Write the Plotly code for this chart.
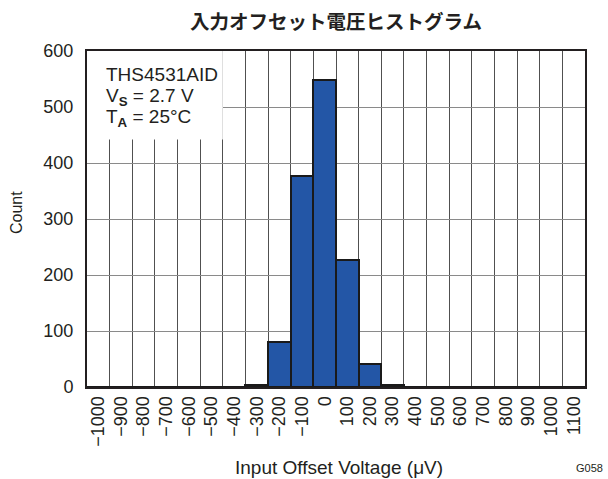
import plotly.graph_objects as go

bins = list(range(-1000, 1101, 100))
counts = [0, 0, 0, 0, 0, 0, 0, 3, 81, 376, 549, 226, 41, 3, 0, 0, 0, 0, 0, 0, 0, 0]
tick_labels = [("\u2212" + str(-b)) if b < 0 else str(b) for b in bins]
y_ticks = list(range(0, 601, 100))
boundaries = [b - 50 for b in bins] + [bins[-1] + 50]

font = "Liberation Sans, Arial, sans-serif"
W, H = 608, 479
L, R, T, B = 87, 23, 51, 92
pw, ph = W - L - R, H - T - B


def px(x):
    return (x - L) / pw


def py(y):
    return (H - B - y) / ph


fig = go.Figure()
fig.add_trace(go.Bar(
    x=bins, y=counts, width=100,
    marker=dict(color="#2356A6", line=dict(color="#1a1a1a", width=2)),
))

fig.add_shape(type="rect", xref="x", yref="y", x0=-1050, x1=-450, y0=442, y1=600,
              fillcolor="white", line=dict(width=0), layer="between")

fig.update_layout(
    width=W, height=H,
    margin=dict(l=L, r=R, t=T, b=B, autoexpand=False),
    plot_bgcolor="white", paper_bgcolor="white",
    showlegend=False, bargap=0,
    font=dict(family=font, color="#231f20"),
)
fig.update_xaxes(
    range=[-1050, 1150], automargin=False,
    tickmode="array", tickvals=bins, ticktext=tick_labels,
    tickangle=-90, tickfont=dict(size=18), ticks="",
    showgrid=False,
    minor=dict(tickmode="array", tickvals=boundaries, showgrid=True,
               gridcolor="#505050", gridwidth=1, ticks=""),
    showline=True, linecolor="#231f20", linewidth=2, mirror=True,
    zeroline=False,
)
fig.update_yaxes(
    range=[0, 600], automargin=False,
    tickmode="array", tickvals=y_ticks,
    tickfont=dict(size=18), ticks="", ticklabelstandoff=8,
    showgrid=True, gridcolor="#8a8a8a", gridwidth=1,
    showline=True, linecolor="#231f20", linewidth=2, mirror=True,
    zeroline=False,
)

info_lines = ["THS4531AID",
              "V<sub><b>S</b></sub> = 2.7 V",
              "T<sub><b>A</b></sub> = 25\u00b0C"]
info_y = [74, 97, 118]
for txt, yy in zip(info_lines, info_y):
    fig.add_annotation(
        xref="paper", yref="paper", x=px(104), y=py(yy), xanchor="left", yanchor="middle",
        align="left", showarrow=False, text=txt, font=dict(size=19, family=font),
    )

fig.add_annotation(
    xref="paper", yref="paper", x=px(336), y=py(20),
    xanchor="center", yanchor="middle", showarrow=False,
    text="<b>入力オフセット電圧ヒストグラム</b>",
    font=dict(size=19.5, family="Noto Sans CJK JP"),
)
fig.add_annotation(
    xref="paper", yref="paper", x=px(339), y=py(467),
    xanchor="center", yanchor="middle", showarrow=False,
    text="Input Offset Voltage (\u03bcV)", font=dict(size=19, family=font),
)
fig.add_annotation(
    xref="paper", yref="paper", x=px(17), y=py(213),
    xanchor="center", yanchor="middle", showarrow=False, textangle=-90,
    text="Count", font=dict(size=16, family=font),
)
fig.add_annotation(
    xref="paper", yref="paper", x=px(605), y=py(468),
    xanchor="right", yanchor="middle", showarrow=False,
    text="G058", font=dict(size=11, family=font),
)

fig.write_html("out.html", config={"displayModeBar": False},
               post_script="document.body.style.margin='0';document.body.style.overflow='hidden';")
